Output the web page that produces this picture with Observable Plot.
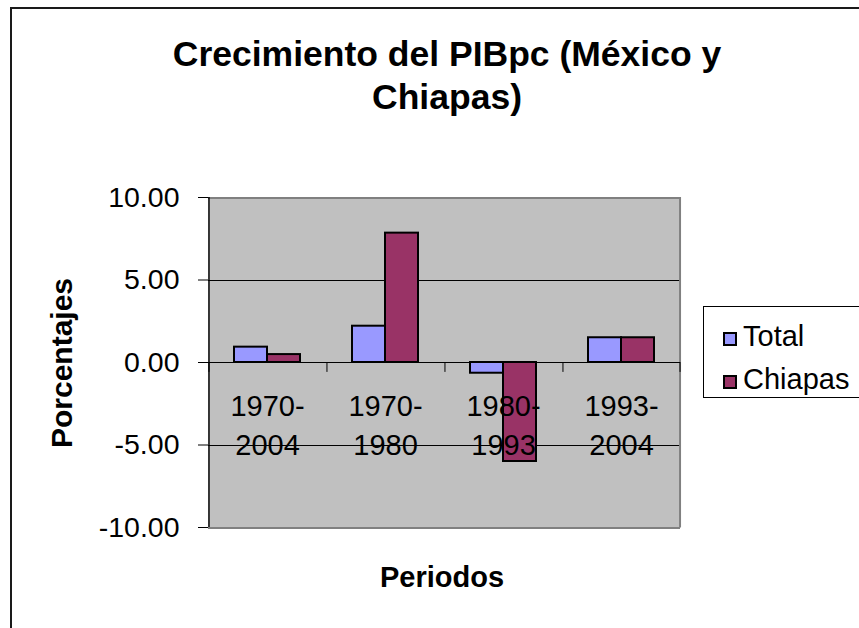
<!DOCTYPE html>
<html>
<head>
<meta charset="utf-8">
<script src="https://cdn.jsdelivr.net/npm/d3@7"></script>
<script src="https://cdn.jsdelivr.net/npm/@observablehq/plot@0.6"></script>
<style>
  html, body { margin: 0; padding: 0; background: #fff; overflow: hidden; }
  #page { position: relative; width: 859px; height: 628px; overflow: hidden;
          font-family: "Liberation Sans", Arial, sans-serif; color: #000; }
  #outer { position: absolute; left: 10px; top: 7px; width: 1000px; height: 1000px;
           border-left: 2px solid #1a1a1a; border-top: 2px solid #1a1a1a; }
  #chart { position: absolute; left: 0; top: 0; }
  .title { position: absolute; left: 47px; width: 800px; top: 33px; text-align: center;
           font-weight: bold; font-size: 35.5px; line-height: 43px; }
  .ylab { position: absolute; left: 62px; top: 363px; transform: translate(-50%, -50%) rotate(-90deg);
          font-weight: bold; font-size: 30px; white-space: nowrap; }
  .xlab { position: absolute; left: 442px; top: 561px; transform: translateX(-50%);
          font-weight: bold; font-size: 29px; white-space: nowrap; }
  #legend { position: absolute; left: 703px; top: 306px; width: 200px; height: 92px;
            border: 1px solid #000; box-sizing: border-box; background: #fff; }
  .lg-sw { position: absolute; width: 14px; height: 14px; box-sizing: border-box; border: 2px solid #000; }
  .lg-tx { position: absolute; font-size: 29px; white-space: nowrap; }
</style>
</head>
<body>
<div id="page">
  <div id="outer"></div>
  <div id="chart"></div>
  <div class="title">Crecimiento del PIBpc (México y<br>Chiapas)</div>
  <div class="ylab">Porcentajes</div>
  <div class="xlab">Periodos</div>
  <div id="legend"></div>
</div>
<script>
// ---- data ----
const periods = ["1970-2004", "1970-1980", "1980-1993", "1993-2004"];
const series = ["Total", "Chiapas"];
const total = [0.93, 2.2, -0.65, 1.5];
const chiapas = [0.48, 7.84, -6.0, 1.5];
const colors = ["#9999FF", "#993366"];
const yTicks = [-10, -5, 0, 5, 10];
const yDomain = [-10, 10];
const gridValues = [-5, 5];

// ---- layout ----
const W = 859, H = 628, mL = 208, mR = 179, mT = 197, mB = 101;
const pO = 0.74;
const facetW = (W - mL - mR) / periods.length;
const step = facetW / (series.length + 2 * pO);
const edge = (0.5 + pO) * step;

const rows = periods.flatMap((p, i) => [
  {period: p, series: series[0], value: total[i]},
  {period: p, series: series[1], value: chiapas[i]}
]);

const chart = Plot.plot({
  width: W, height: H,
  marginLeft: mL, marginRight: mR, marginTop: mT, marginBottom: mB,
  style: {fontFamily: "'Liberation Sans', Arial, sans-serif", background: "transparent", color: "#000"},
  fx: {domain: periods, padding: 0, axis: null},
  x: {domain: series, paddingInner: 0, paddingOuter: pO, axis: null},
  y: {domain: yDomain, axis: null},
  color: {domain: series, range: colors},
  marks: [
    Plot.frame({fill: "#c0c0c0", stroke: "none", shapeRendering: "crispEdges"}),
    Plot.ruleY(gridValues, {stroke: "#000", strokeWidth: 1, shapeRendering: "crispEdges"}),
    Plot.ruleY(yDomain, {stroke: "#808080", strokeWidth: 2, shapeRendering: "crispEdges"}),
    Plot.ruleX([periods[periods.length - 1]], {fx: d => d, x: () => series[series.length - 1], dx: edge,
      y1: yDomain[0], y2: yDomain[1], stroke: "#808080", strokeWidth: 2}),
    Plot.barY(rows, {fx: "period", x: "series", y: "value", fill: "series", stroke: "#000", strokeWidth: 2}),
    Plot.ruleY([0], {stroke: "#000", strokeWidth: 1, shapeRendering: "crispEdges"}),
    Plot.ruleX(periods, {fx: d => d, x: () => series[0], dx: -edge, y1: 0, y2: -0.6, stroke: "#000", strokeWidth: 1}),
    Plot.ruleX([periods[periods.length - 1]], {fx: d => d, x: () => series[series.length - 1], dx: edge,
      y1: 0, y2: -0.6, stroke: "#000", strokeWidth: 1}),
    Plot.ruleX([periods[0]], {fx: d => d, x: () => series[0], dx: -edge,
      y1: yDomain[0], y2: yDomain[1], stroke: "#000", strokeWidth: 1.5}),
    Plot.axisY({ticks: yTicks, tickFormat: d => d.toFixed(2), tickSize: 10, tickPadding: 19,
      fontSize: 28.5, label: null, stroke: "#000"}),
    Plot.text(periods, {fx: d => d, y: () => 0, text: d => d.replace("-", "-\n"),
      lineAnchor: "top", dy: 25, fontSize: 29, lineHeight: 1.37, fill: "#000"})
  ]
});
document.getElementById("chart").appendChild(chart);

// ---- legend ----
const lg = document.getElementById("legend");
series.forEach((s, i) => {
  const sw = document.createElement("div");
  sw.className = "lg-sw";
  sw.style.background = colors[i];
  sw.style.left = "19px";
  sw.style.top = (25 + i * 43) + "px";
  lg.appendChild(sw);
  const tx = document.createElement("div");
  tx.className = "lg-tx";
  tx.textContent = s;
  tx.style.left = "39px";
  tx.style.top = (13 + i * 43) + "px";
  lg.appendChild(tx);
});
</script>
</body>
</html>
